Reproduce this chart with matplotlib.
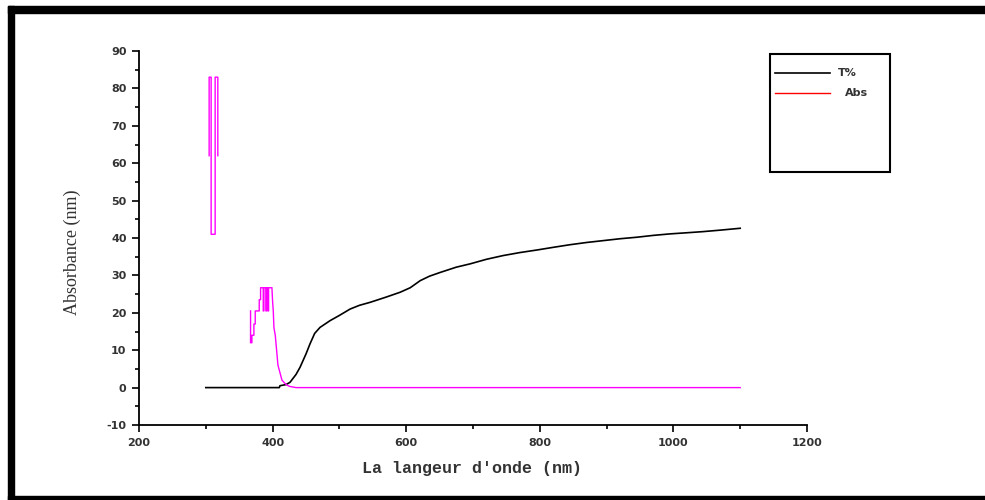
import numpy as np
import matplotlib.pyplot as plt
from matplotlib.patches import Rectangle
from matplotlib.lines import Line2D

plt.rcParams['axes.unicode_minus'] = False

# T% curve (black)
t_wl = [300, 410, 411, 420, 426, 435, 441, 450, 456, 463, 471, 486, 500, 516,
        530, 546, 570, 591, 606, 621, 635, 651, 675, 696, 720, 745, 770, 796,
        820, 845, 870, 895, 920, 945, 970, 995, 1020, 1044, 1070, 1100]
t_val = [0, 0, 0.5, 0.8, 1.4, 3.5, 5.4, 9.0, 11.7, 14.5, 16.1, 17.9, 19.3, 21.0,
         22.0, 22.8, 24.2, 25.5, 26.7, 28.6, 29.8, 30.8, 32.2, 33.1, 34.3, 35.3,
         36.1, 36.8, 37.5, 38.2, 38.8, 39.3, 39.8, 40.2, 40.7, 41.1, 41.4, 41.7,
         42.1, 42.6]

# Abs curve (magenta), NaN marks the gap in the recorded data
abs_wl = [305, 305, 308, 308, 314, 314, 318, 318, np.nan,
          367, 367, 369, 369, 372, 372, 374, 374, 380, 380, 382, 382, 386, 386,
          387, 387, 390, 390, 391, 391, 393, 393, 394, 394, 399, 400, 401, 402,
          404, 406, 408, 411, 414, 418, 422, 426, 432, 435, 1100]
abs_val = [62, 83, 83, 41, 41, 83, 83, 62, np.nan,
           20.5, 12, 12, 14, 14, 17, 17, 20.5, 20.5, 23.5, 23.5, 26.7, 26.7, 20.5,
           20.5, 26.7, 26.7, 20.5, 20.5, 26.7, 26.7, 20.5, 20.5, 26.7, 26.7, 23,
           20.5, 16, 14, 10, 6, 4, 2, 1.2, 0.6, 0.3, 0.1, 0, 0]

fig = plt.figure(figsize=(9.85, 5.0), dpi=100)
ax = fig.add_axes([139 / 985, 75 / 500, 668 / 985, 374 / 500])

ax.plot(t_wl, t_val, color='black', lw=1.2)
ax.plot(abs_wl, abs_val, color='#ff00ff', lw=1.0)

ax.set_xlim(200, 1200)
ax.set_ylim(-10, 90)
ax.set_xticks(range(200, 1201, 200))
ax.set_xticks(range(300, 1200, 200), minor=True)
ax.set_yticks(range(-10, 91, 10))
ax.set_yticks(range(-5, 90, 10), minor=True)

for s in ['top', 'right']:
    ax.spines[s].set_visible(False)
for s in ['left', 'bottom']:
    ax.spines[s].set_linewidth(1.3)

ax.tick_params(which='major', direction='out', length=5, width=1.2,
               labelsize=8, pad=4)
ax.tick_params(which='minor', direction='out', length=3, width=1.2)
for lab in ax.get_xticklabels() + ax.get_yticklabels():
    lab.set_fontweight('bold')
    lab.set_color('#333333')

ax.set_xlabel("La langeur d'onde (nm)", family='Liberation Mono',
              fontsize=12, fontweight='bold', color='#333333')
ax.xaxis.label.set_va('center')
ax.xaxis.set_label_coords(0.4985, -0.115)
ax.set_ylabel("Absorbance (nm)", family='Liberation Serif', fontsize=13,
              color='#333333')
ax.yaxis.label.set_va('center')
ax.yaxis.set_label_coords(-0.100, 0.463)

# legend box drawn in figure pixels
W, H = 985, 500
fig.patches.append(Rectangle((770 / W, 1 - 172 / H), 120 / W, 118 / H,
                             transform=fig.transFigure, fill=False,
                             edgecolor='black', lw=1.5))
fig.lines.append(Line2D([775 / W, 830 / W], [1 - 73 / H, 1 - 73 / H],
                        transform=fig.transFigure, color='black', lw=1.2))
fig.lines.append(Line2D([775 / W, 830 / W], [1 - 93 / H, 1 - 93 / H],
                        transform=fig.transFigure, color='red', lw=1.0))
fig.text(838 / W, 1 - 73 / H, "T%", fontsize=8, fontweight='bold',
         va='center', color='#333333')
fig.text(845 / W, 1 - 93 / H, "Abs", fontsize=8, fontweight='bold',
         va='center', color='#333333')

# thick frame around the picture
fig.patches.append(Rectangle((8 / W, 0), 6 / W, 1 - 6 / H,
                             transform=fig.transFigure, color='black'))
fig.patches.append(Rectangle((8 / W, 1 - 13 / H), 1 - 8 / W, 7 / H,
                             transform=fig.transFigure, color='black'))
fig.patches.append(Rectangle((8 / W, 0), 1 - 8 / W, 4 / H,
                             transform=fig.transFigure, color='black'))

fig.savefig("out.png", dpi=100)
